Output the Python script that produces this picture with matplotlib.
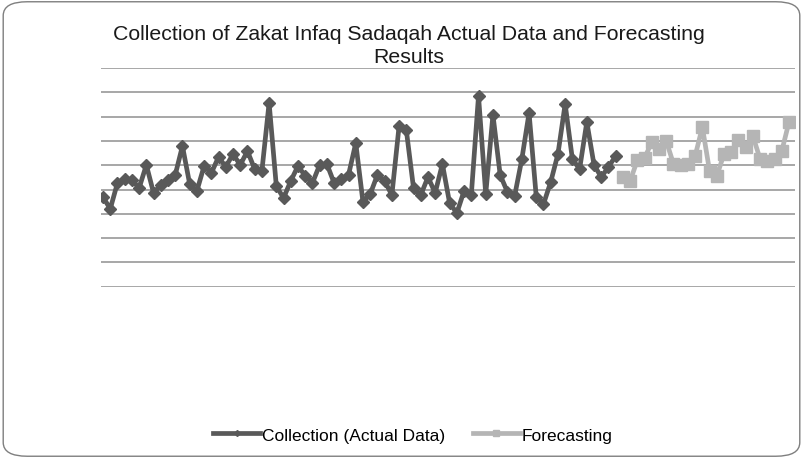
import matplotlib.pyplot as plt
from matplotlib.lines import Line2D
from matplotlib.patches import FancyBboxPatch
import numpy as np

# monthly collection (actual) and forecast
actual = [369, 320, 427, 443, 439, 406, 501, 386, 418, 439, 460, 579,
          423, 394, 497, 468, 534, 493, 546, 501, 558, 484, 476, 756,
          414, 365, 435, 497, 456, 427, 501, 505, 427, 443, 460, 591,
          349, 381, 460, 435, 377, 661, 645, 406, 377, 451, 386, 505,
          344, 303, 394, 377, 785, 381, 707, 460, 390, 373, 525, 715,
          369, 340, 431, 546, 752, 525, 484, 678, 501, 451, 493, 538]
forecast = [451, 435, 521, 530, 595, 567, 600, 505, 501, 505, 538, 657,
            476, 456, 546, 554, 604, 575, 620, 525, 517, 525, 558, 678]

x_actual = np.arange(len(actual))
x_forecast = np.arange(len(actual), len(actual) + len(forecast))

plt.rcParams['font.family'] = ['Liberation Sans', 'DejaVu Sans']

fig = plt.figure(figsize=(8.03, 4.6), dpi=100)

# rounded chart-area border
border = FancyBboxPatch((0.004, 0.006), 0.992, 0.988,
                        boxstyle="round,pad=0,rounding_size=0.03",
                        transform=fig.transFigure, facecolor='white',
                        edgecolor='#7f7f7f', linewidth=1.0, zorder=-10)
fig.patches.append(border)

ax = fig.add_axes([101 / 803, 1 - 287.7 / 460, 694 / 803, 218.7 / 460])
ax.set_facecolor('none')

dark = '#595959'
light = '#b5b5b5'

ax.plot(x_actual, actual, color=dark, linewidth=3.4, marker='D',
        markersize=6, markerfacecolor=dark, markeredgecolor=dark, zorder=3)
ax.plot(x_forecast, forecast, color=light, linewidth=3.4, marker='s',
        markersize=8.5, markerfacecolor=light, markeredgecolor=light, zorder=3)

ax.set_ylim(0, 900)
ax.set_xlim(-0.28, 95.83)
ax.set_yticks(np.arange(0, 901, 100))
ax.yaxis.grid(True, color='#a0a0a0', linewidth=1.3)
ax.set_axisbelow(True)
ax.tick_params(left=False, bottom=False, labelleft=False, labelbottom=False)
for s in ax.spines.values():
    s.set_visible(False)

fig.text(409 / 803, 1 - 35 / 460, 'Collection of Zakat Infaq Sadaqah Actual Data and Forecasting',
         ha='center', va='center', fontsize=15.3, color='#1a1a1a')
fig.text(409 / 803, 1 - 58 / 460, 'Results',
         ha='center', va='center', fontsize=15.3, color='#1a1a1a')

handles = [Line2D([], [], color=dark, linewidth=3.4, marker='D', markersize=3),
           Line2D([], [], color=light, linewidth=3.4, marker='s', markersize=4)]
fig.legend(handles, ['Collection (Actual Data)', 'Forecasting'],
           loc='center', bbox_to_anchor=(413 / 803, 1 - 436 / 460), ncol=2,
           frameon=False, fontsize=12.5, handlelength=2.7, handletextpad=0.1,
           columnspacing=1.6)

fig.savefig('out.png', dpi=100)
